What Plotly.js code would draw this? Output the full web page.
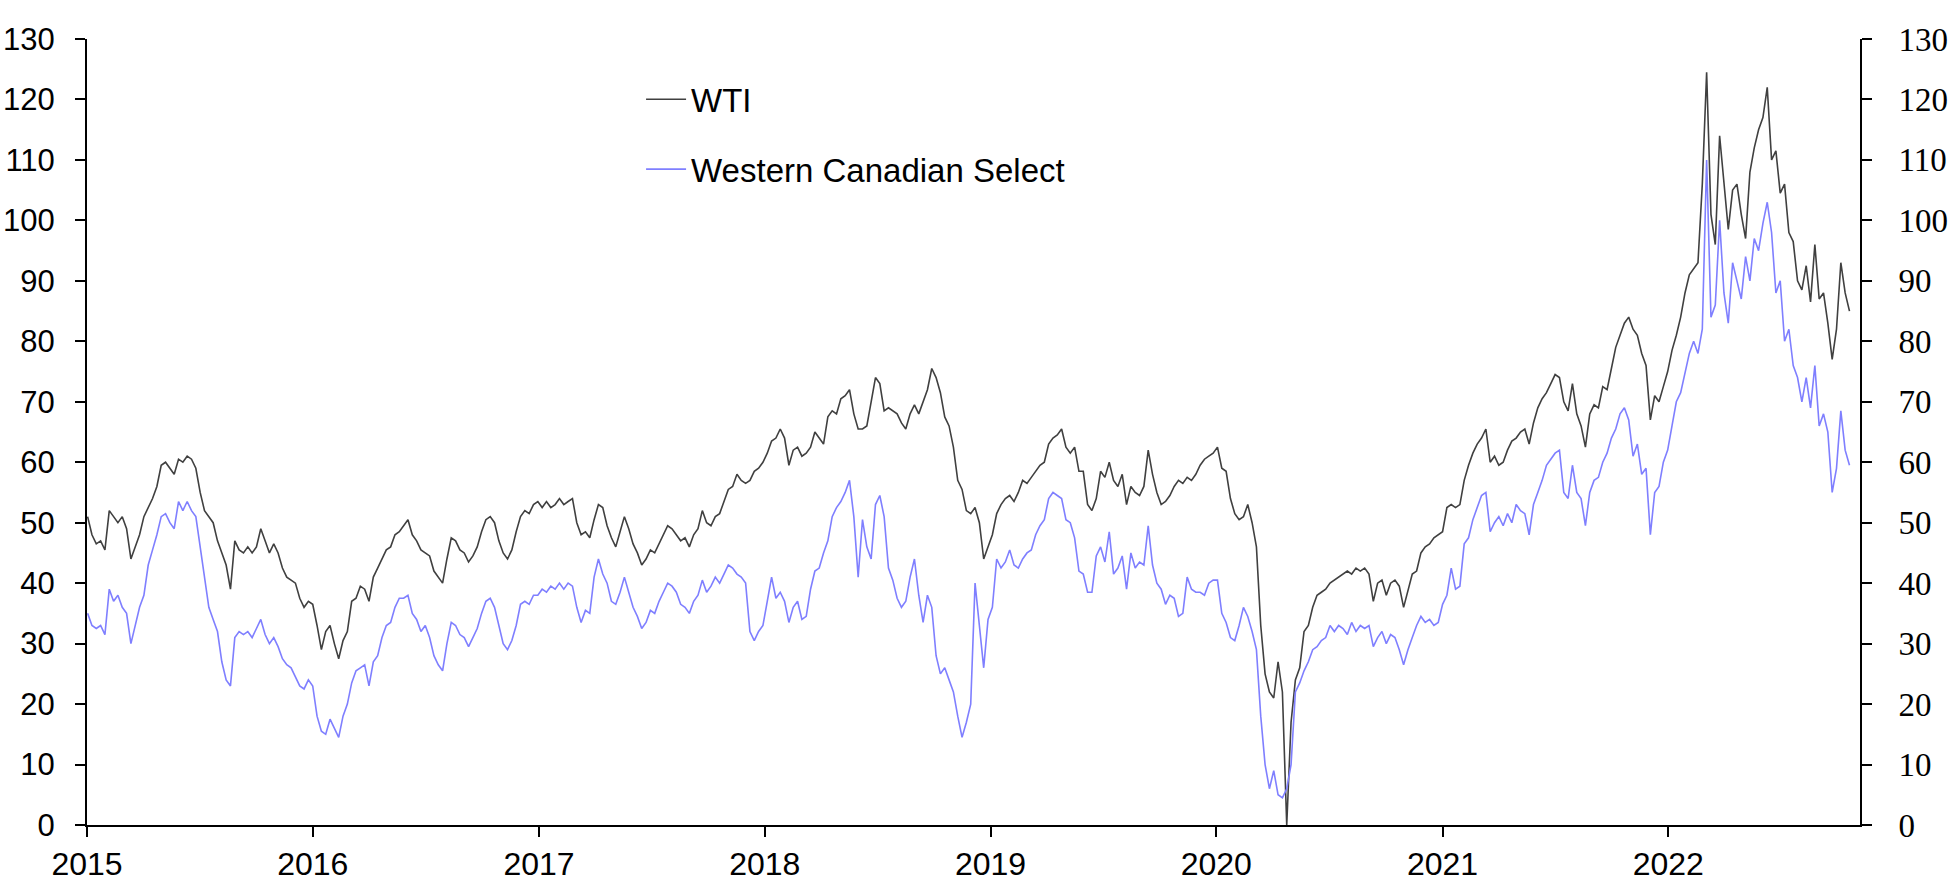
<!DOCTYPE html>
<html>
<head>
<meta charset="utf-8">
<script src="https://cdn.plot.ly/plotly-3.0.1.min.js"></script>
<style>
  html, body { margin: 0; padding: 0; background: #fff; }
  #graph { width: 1949px; height: 886px; }
</style>
</head>
<body>
<div id="graph"></div>
<script>
// weekly closes, first week ends 2015-01-02, one value every 7 days
var firstWeek = '2015-01-02';
var stepDays = 7;

// WTI, US$ per barrel (one line per calendar year)
var wti = [
    51, 48, 46.5, 47, 45.5, 52, 51, 50, 51, 49, 44, 46, 48, 51, 52.5, 54, 56, 59.5, 60, 59,
    58, 60.5, 60, 61, 60.5, 59, 55, 52, 51, 50, 47, 45, 43, 39, 47, 45.5, 45, 46, 45, 46,
    49, 47, 45, 46.5, 45, 42.5, 41, 40.5, 40, 37.5, 36, 37,
    36.5, 33, 29, 32, 33, 30, 27.5, 30.5, 32, 37, 37.5, 39.5, 39, 37, 41, 42.5, 44, 45.5, 46, 48,
    48.5, 49.5, 50.5, 48, 47, 45.5, 45, 44.5, 42, 41, 40, 44, 47.5, 47, 45.5, 45, 43.5, 44.5, 46, 48.5,
    50.5, 51, 50, 47, 45, 44, 45.5, 48.5, 51, 52, 51.5, 53, 53.5,
    52.5, 53.5, 52.5, 53, 54, 53, 53.5, 54, 50, 48, 48.5, 47.5, 50.5, 53, 52.5, 49.5, 47.5, 46, 48.5, 51,
    49, 46.5, 45, 43, 44, 45.5, 45, 46.5, 48, 49.5, 49, 48, 47, 47.5, 46, 48, 49, 52, 50, 49.5,
    51, 51.5, 53.5, 55.5, 56, 58, 57, 56.5, 57, 58.5, 59, 60,
    61.5, 63.5, 64, 65.5, 64, 59.5, 62, 62.5, 61, 61.5, 62.5, 65, 64, 63, 67.5, 68.5, 68, 70.5, 71, 72,
    68, 65.5, 65.5, 66, 70, 74, 73, 68.5, 69, 68.5, 68, 66.5, 65.5, 68, 69.5, 68, 70, 72, 75.5, 74,
    71.5, 67.5, 66, 62.5, 57, 55.5, 52, 51.5, 52.5, 50, 44, 46,
    48, 51.5, 53, 54, 54.5, 53.5, 55, 57, 56.5, 57.5, 58.5, 59.5, 60, 63, 64, 64.5, 65.5, 62.5, 61.5, 62.5,
    58.5, 58.5, 53, 52, 54, 58.5, 57.5, 60, 57, 56, 58, 53, 56, 55, 54.5, 56, 62, 58, 55, 53,
    53.5, 54.5, 56, 57, 56.5, 57.5, 57, 58, 59.5, 60.5, 61, 61.5,
    62.5, 59, 58.5, 54, 51.5, 50.5, 51, 53, 50, 46, 33, 25, 22, 21, 27, 22, 0, 17, 24, 26,
    32, 33, 36, 38, 38.5, 39, 40, 40.5, 41, 41.5, 42, 41.5, 42.5, 42, 42.5, 41.5, 37, 40, 40.5, 38,
    40, 40.5, 39.5, 36, 39, 41.5, 42, 45, 46, 46.5, 47.5, 48,
    48.5, 52.5, 53, 52.5, 53, 57, 59.5, 61.5, 63, 64, 65.5, 60, 61, 59.5, 60, 62, 63.5, 64, 65, 65.5,
    63, 66.5, 69, 70.5, 71.5, 73, 74.5, 74, 70, 68.5, 73, 68, 66, 62.5, 68, 69.5, 69, 72.5, 72, 75.5,
    79, 81, 83, 84, 82, 81, 78, 76, 67, 71, 70, 72.5,
    75, 78.5, 81, 84, 88, 91, 92, 93, 106, 124.5, 101, 96, 114, 106, 98.5, 105, 106, 101, 97, 108,
    112, 115, 117, 122, 110, 111.5, 104.5, 106, 98, 96.5, 90, 88.5, 92.5, 86.5, 96, 87, 88, 83, 77, 82,
    93, 88, 85
];

// Western Canadian Select, US$ per barrel
var wcs = [
    35, 33, 32.5, 33, 31.5, 39, 37, 38, 36, 35, 30, 33, 36, 38, 43, 45.5, 48, 51, 51.5, 50,
    49, 53.5, 52, 53.5, 52, 51, 46, 41, 36, 34, 32, 27, 24, 23, 31, 32, 31.5, 32, 31, 32.5,
    34, 31.5, 30, 31, 29.5, 27.5, 26.5, 26, 24.5, 23, 22.5, 24,
    23, 18, 15.5, 15, 17.5, 16, 14.5, 18, 20, 23.5, 25.5, 26, 26.5, 23, 27, 28, 31, 33, 33.5, 36,
    37.5, 37.5, 38, 35, 34, 32, 33, 31, 28, 26.5, 25.5, 30, 33.5, 33, 31.5, 31, 29.5, 31, 32.5, 35,
    37, 37.5, 36, 33, 30, 29, 30.5, 33, 36.5, 37, 36.5, 38, 38,
    39, 38.5, 39.5, 39, 40, 39, 40, 39.5, 36, 33.5, 35.5, 35, 41, 44, 41.5, 40, 37, 36.5, 38.5, 41,
    38.5, 36, 34.5, 32.5, 33.5, 35.5, 35, 37, 38.5, 40, 39.5, 38.5, 36.5, 36, 35, 37, 38, 40.5, 38.5, 39.5,
    41, 40, 41.5, 43, 42.5, 41.5, 41, 40, 32, 30.5, 32, 33,
    37, 41, 37.5, 38.5, 37, 33.5, 36, 37, 34, 34.5, 39, 42, 42.5, 45, 47, 51, 52.5, 53.5, 55, 57,
    51, 41, 50.5, 46, 44, 53, 54.5, 51, 42.5, 40.5, 37.5, 36, 37, 41, 44, 38, 33.5, 38, 36, 28,
    25, 26, 24, 22, 18, 14.5, 17, 20, 40, 33, 26, 34,
    36, 44, 42.5, 43.5, 45.5, 43, 42.5, 44, 45, 45.5, 48, 49.5, 50.5, 54, 55, 54.5, 54, 50.5, 50, 47.5,
    42, 41.5, 38.5, 38.5, 44.5, 46, 43.5, 48.5, 41.5, 42.5, 44.5, 39, 45, 42.5, 43.5, 43, 49.5, 43, 40, 39,
    36.5, 38, 37.5, 34.5, 35, 41, 39, 38.5, 38.5, 38, 40, 40.5,
    40.5, 35, 33.5, 31, 30.5, 33, 36, 34.5, 32, 29, 18, 10, 6, 9, 5, 4.5, 6, 10, 22, 23.5,
    25.5, 27, 29, 29.5, 30.5, 31, 33, 32, 33, 32.5, 31.5, 33.5, 32, 33, 32.5, 33, 29.5, 31, 32, 30,
    31.5, 31, 29, 26.5, 29, 31, 33, 34.5, 33.5, 34, 33, 33.5,
    36.5, 38, 42.5, 39, 39.5, 46.5, 47.5, 50.5, 52.5, 54.5, 55, 48.5, 50, 51, 49.5, 51.5, 50, 53, 52, 51.5,
    48, 53, 55, 57, 59.5, 60.5, 61.5, 62, 55, 54, 59.5, 55, 54, 49.5, 55, 57, 57.5, 60, 61.5, 64,
    65.5, 68, 69, 67, 61, 63, 58, 59, 48, 55, 56, 60,
    62, 66, 70, 71.5, 75, 78, 80, 78, 82, 110, 84, 86, 100, 88, 83, 93, 90, 87, 94, 90,
    97, 95, 99.5, 103, 98, 88, 90, 80, 82, 76, 74, 70, 74, 69, 76, 66, 68, 65, 55, 59,
    68.5, 62, 59.5
];

var yearTicks = ['2015-01-01', '2016-01-01', '2017-01-01', '2018-01-01',
                 '2019-01-01', '2020-01-01', '2021-01-01', '2022-01-01'];
var yearLabels = ['2015', '2016', '2017', '2018', '2019', '2020', '2021', '2022'];

function makeDates(start, step, n) {
    var t0 = new Date(start + 'T00:00:00Z').getTime();
    var out = [];
    for (var i = 0; i < n; i++) {
        out.push(new Date(t0 + i * step * 86400000).toISOString().slice(0, 10));
    }
    return out;
}

var dates = makeDates(firstWeek, stepDays, wti.length);

var sansFont = 'Liberation Sans, Arial, sans-serif';
var serifFont = 'Liberation Serif, Times New Roman, serif';

var traceWTI = {
    x: dates,
    y: wti,
    name: 'WTI',
    type: 'scatter',
    mode: 'lines',
    legendgroup: 'a',
    line: { color: '#404040', width: 1.6 }
};
var traceWCS = {
    x: dates.slice(0, wcs.length),
    y: wcs,
    name: 'Western Canadian Select',
    type: 'scatter',
    mode: 'lines',
    legendgroup: 'b',
    yaxis: 'y2',
    line: { color: '#7f7fff', width: 1.6 }
};

var layout = {
    width: 1949,
    height: 886,
    margin: { l: 87, r: 89, t: 39, b: 61, pad: 0 },
    paper_bgcolor: '#ffffff',
    plot_bgcolor: '#ffffff',
    showlegend: true,
    legend: {
        x: 0.3125,
        y: 0.959,
        xanchor: 'left',
        yanchor: 'top',
        traceorder: 'grouped',
        tracegroupgap: 24,
        itemwidth: 40,
        bgcolor: 'rgba(0,0,0,0)',
        font: { family: sansFont, size: 33, color: '#000' }
    },
    xaxis: {
        type: 'date',
        range: ['2015-01-01', '2022-11-07'],
        tickmode: 'array',
        tickvals: yearTicks,
        ticktext: yearLabels,
        showgrid: false,
        zeroline: false,
        showline: true,
        linecolor: '#000',
        linewidth: 2,
        ticks: 'outside',
        ticklen: 10,
        tickwidth: 2,
        tickcolor: '#000',
        tickfont: { family: sansFont, size: 32, color: '#000' }
    },
    yaxis: {
        range: [0, 130],
        tick0: 0,
        dtick: 10,
        showgrid: false,
        zeroline: false,
        showline: true,
        linecolor: '#000',
        linewidth: 2,
        ticks: 'outside',
        ticklen: 10,
        tickwidth: 2,
        tickcolor: '#000',
        ticklabelstandoff: 14,
        tickfont: { family: sansFont, size: 31, color: '#000' }
    },
    yaxis2: {
        overlaying: 'y',
        side: 'right',
        range: [0, 130],
        tick0: 0,
        dtick: 10,
        showgrid: false,
        zeroline: false,
        showline: true,
        linecolor: '#000',
        linewidth: 2,
        ticks: 'outside',
        ticklen: 10,
        tickwidth: 2,
        tickcolor: '#000',
        ticklabelstandoff: 20,
        tickfont: { family: serifFont, size: 33, color: '#000' }
    }
};

Plotly.newPlot('graph', [traceWTI, traceWCS], layout, { displayModeBar: false, staticPlot: true });
</script>
</body>
</html>
